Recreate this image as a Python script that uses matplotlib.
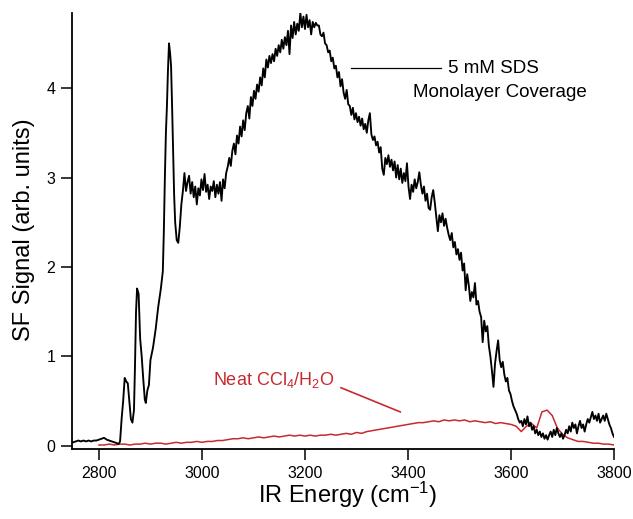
import numpy as np
import matplotlib as mpl
import matplotlib.pyplot as plt

# SFVS spectra: SDS monolayer at the CCl4/water interface vs. the neat interface
# onset region (CH stretches), irregular sampling
onset_wn = [2750, 2755, 2760, 2765, 2770, 2775, 2780, 2785, 2790, 2795,
            2800, 2805, 2810, 2815, 2820, 2825, 2830, 2835, 2838, 2841,
            2844, 2847, 2850, 2853, 2856, 2859, 2862, 2865, 2868, 2870,
            2872, 2874, 2877, 2880, 2883, 2886, 2889, 2891, 2894, 2897,
            2900, 2905, 2910, 2915, 2920, 2924, 2926, 2928, 2930, 2932,
            2934, 2936, 2938, 2940, 2942, 2944, 2946, 2948, 2951, 2954,
            2957, 2960, 2963, 2966, 2969, 2972, 2975, 2978, 2981, 2984,
            2987, 2990, 2993, 2996, 2999, 3002, 3005, 3008, 3011, 3014,
            3017, 3020, 3023, 3026, 3029, 3032, 3035, 3038, 3041, 3044]
onset_sf = [0.04, 0.05, 0.06, 0.05, 0.06, 0.05, 0.06, 0.05, 0.06, 0.06,
            0.07, 0.08, 0.09, 0.07, 0.06, 0.05, 0.04, 0.03, 0.02, 0.05,
            0.30, 0.50, 0.76, 0.72, 0.70, 0.50, 0.30, 0.26, 0.40, 0.90,
            1.50, 1.76, 1.70, 1.20, 1.00, 0.75, 0.52, 0.48, 0.62, 0.68,
            0.96, 1.10, 1.30, 1.55, 1.75, 1.95, 2.40, 3.00, 3.50, 3.80,
            4.20, 4.50, 4.40, 4.25, 3.80, 3.30, 2.80, 2.50, 2.30, 2.27,
            2.45, 2.70, 2.85, 3.05, 2.85, 2.95, 3.02, 2.82, 2.95, 2.78,
            2.90, 2.70, 2.88, 2.80, 2.98, 2.86, 3.04, 2.84, 2.92, 2.76,
            2.90, 2.85, 2.96, 2.78, 2.92, 2.82, 2.95, 2.74, 2.98, 2.88]

# OH stretch region, 3 cm-1 steps from 3047 to 3800
scan_wn = np.arange(3047, 3801, 3)
scan_sf = [3.05, 3.12, 3.22, 3.13, 3.30, 3.38, 3.26, 3.47, 3.38, 3.57,
           3.46, 3.64, 3.53, 3.72, 3.80, 3.66, 3.90, 3.80, 3.97, 3.88,
           4.04, 3.96, 4.12, 4.03, 4.22, 4.12, 4.32, 4.23, 4.36, 4.28,
           4.38, 4.30, 4.44, 4.36, 4.48, 4.40, 4.54, 4.44, 4.57, 4.48,
           4.64, 4.38, 4.70, 4.56, 4.74, 4.60, 4.72, 4.64, 4.84, 4.68,
           4.80, 4.66, 4.82, 4.68, 4.76, 4.60, 4.74, 4.68, 4.73, 4.70,
           4.70, 4.60,
           4.58, 4.62, 4.50, 4.48, 4.40, 4.42, 4.30, 4.34, 4.22, 4.25,
           4.12, 4.18, 4.02, 4.10, 3.95, 3.88, 3.98, 3.82, 3.80, 3.70,
           3.78, 3.65, 3.72, 3.62, 3.68, 3.58, 3.66, 3.54, 3.60, 3.50,
           3.64, 3.72, 3.48, 3.42, 3.46, 3.36, 3.40, 3.28, 3.34, 3.10,
           3.03, 3.22, 3.15, 3.25, 3.12, 3.20, 3.08, 3.18, 3.00, 3.14,
           2.98, 3.10, 2.94, 3.05, 2.96, 3.16, 2.90, 2.76, 2.92, 2.84,
           2.98, 2.88, 2.95, 3.06, 2.92, 2.82, 2.90, 2.74, 2.82, 2.66,
           2.64, 2.78, 2.86, 2.72, 2.56, 2.40, 2.58, 2.50, 2.60, 2.46,
           2.54, 2.44, 2.36, 2.30, 2.38, 2.22, 2.28, 2.14, 2.20, 2.08,
           2.16, 1.96, 2.04, 1.74, 1.92, 1.80, 1.62, 1.72, 1.66, 1.82,
           1.58, 1.62, 1.50, 1.44, 1.16, 1.40, 1.28, 1.34, 1.12, 1.00,
           0.84, 0.66, 0.92, 1.06, 1.18, 0.96, 0.88, 0.94, 0.80, 0.72,
           0.76, 0.62, 0.58, 0.50, 0.44, 0.40, 0.36, 0.30, 0.26, 0.28,
           0.22, 0.30, 0.24, 0.33, 0.22, 0.26, 0.18, 0.22, 0.14, 0.18,
           0.12, 0.16, 0.10, 0.14, 0.08, 0.12, 0.07, 0.12, 0.16, 0.10,
           0.18, 0.12, 0.20, 0.14, 0.10, 0.14, 0.08, 0.12, 0.18, 0.14,
           0.22, 0.16, 0.26, 0.20, 0.24, 0.14, 0.22, 0.28, 0.20, 0.24,
           0.16, 0.24, 0.30, 0.26, 0.32, 0.38, 0.30, 0.34, 0.28, 0.36,
           0.26, 0.30, 0.34, 0.28, 0.36, 0.30, 0.24, 0.20, 0.14, 0.10]

# neat CCl4/H2O interface, 10 cm-1 steps
neat_wn = np.arange(2800, 3801, 10)
neat_sf = [0.01, 0.01, 0.02, 0.01, 0.02, 0.02, 0.01, 0.02, 0.02, 0.03,
           0.02, 0.03, 0.03, 0.02, 0.03, 0.04, 0.03, 0.04, 0.04, 0.05,
           0.04, 0.05, 0.05, 0.06, 0.06, 0.07, 0.08, 0.08, 0.09, 0.08,
           0.09, 0.10, 0.09, 0.10, 0.11, 0.10, 0.11, 0.12, 0.11, 0.12,
           0.11, 0.12, 0.11, 0.12, 0.12, 0.13, 0.12, 0.13, 0.14, 0.13,
           0.15, 0.14, 0.16, 0.17, 0.18, 0.19, 0.20, 0.21, 0.22, 0.23,
           0.24, 0.25, 0.26, 0.26, 0.27, 0.28, 0.27, 0.29, 0.28, 0.29,
           0.28, 0.29, 0.27, 0.28, 0.27, 0.26, 0.27, 0.25, 0.26, 0.25,
           0.24, 0.22, 0.16, 0.22, 0.25, 0.20, 0.38, 0.40, 0.34, 0.20,
           0.13, 0.09, 0.07, 0.05, 0.05, 0.04, 0.03, 0.03, 0.02, 0.02,
           0.01]

RED = "#c62a2f"

mpl.rcParams.update({
    "font.family": ["Liberation Sans", "DejaVu Sans"],
    "mathtext.fontset": "custom",
    "mathtext.rm": "Liberation Sans",
    "mathtext.it": "Liberation Sans:italic",
    "mathtext.bf": "Liberation Sans:bold",
})

sds_wn = np.concatenate([onset_wn, scan_wn])
sds_sf = np.concatenate([onset_sf, scan_sf])

fig = plt.figure(figsize=(6.33, 5.19), dpi=100)
ax = fig.add_axes([0.114, 0.135, 0.856, 0.840])

ax.plot(neat_wn, neat_sf, color=RED, lw=1.1, zorder=2)
ax.plot(sds_wn, sds_sf, color="black", lw=1.35, zorder=3)

ax.set_xlim(2748, 3800)
ax.set_ylim(-0.034, 4.84)
ax.set_xticks([2800, 3000, 3200, 3400, 3600, 3800])
ax.set_yticks([0, 1, 2, 3, 4])
for side in ("top", "right"):
    ax.spines[side].set_visible(False)
for side in ("left", "bottom"):
    ax.spines[side].set_linewidth(1.3)
ax.tick_params(direction="out", length=8, width=1.1, labelsize=11.5, pad=4)

# labels for the two traces
ax.plot([3290, 3465], [4.22, 4.22], color="black", lw=0.9)
ax.text(3478, 4.22, "5 mM SDS", fontsize=13.5, ha="left", va="center")
ax.text(3410, 3.95, "Monolayer Coverage", fontsize=13.5, ha="left", va="center")
ax.plot([3270, 3385], [0.65, 0.38], color=RED, lw=1.2)
ax.text(3022, 0.74, "Neat CCl$_4$/H$_2$O", color=RED, fontsize=13,
        ha="left", va="center")

fig.text(0.038, 0.558, "SF Signal (arb. units)", rotation=90,
         fontsize=17, ha="center", va="center")
fig.text(0.549, 0.046, "IR Energy (cm$^{-1}$)", fontsize=17,
         ha="center", va="center")

fig.savefig("out.png", dpi=100, facecolor="white")
